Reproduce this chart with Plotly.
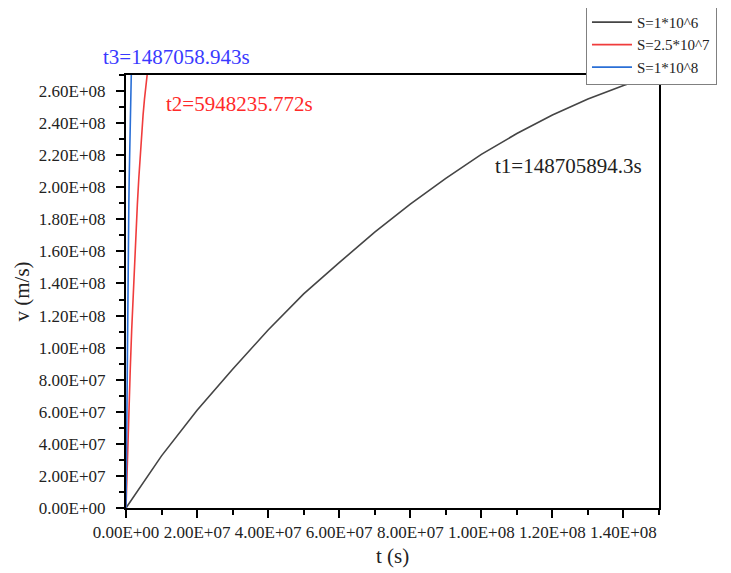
import plotly.graph_objects as go

# Black curve, S = 1*10^6
t_s1 = [0, 1e7, 2e7, 3e7, 4e7, 5e7, 6e7, 7e7, 8e7, 9e7, 1e8, 1.1e8, 1.2e8, 1.3e8, 1.4e8, 1.487e8]
v_s1 = [0, 3.25e7, 6.1e7, 8.65e7, 1.11e8, 1.335e8, 1.53e8, 1.72e8, 1.895e8, 2.055e8,
        2.205e8, 2.335e8, 2.45e8, 2.55e8, 2.635e8, 2.70e8]

# Red curve, S = 2.5*10^7
t_s2 = [0, 4e5, 8e5, 1.2e6, 1.6e6, 2.0e6, 2.4e6, 2.8e6, 3.2e6, 3.6e6, 4.0e6, 4.4e6,
        4.8e6, 5.2e6, 5.6e6, 5.948e6]
v_s2 = [0, 3.25e7, 6.1e7, 8.65e7, 1.11e8, 1.335e8, 1.53e8, 1.72e8, 1.895e8, 2.055e8,
        2.205e8, 2.335e8, 2.45e8, 2.55e8, 2.635e8, 2.70e8]

# Blue curve, S = 1*10^8
t_s3 = [0, 1e5, 2e5, 3e5, 4e5, 5e5, 6e5, 7e5, 8e5, 9e5, 1.0e6, 1.1e6, 1.2e6, 1.3e6,
        1.4e6, 1.487e6]
v_s3 = [0, 3.25e7, 6.1e7, 8.65e7, 1.11e8, 1.335e8, 1.53e8, 1.72e8, 1.895e8, 2.055e8,
        2.205e8, 2.335e8, 2.45e8, 2.55e8, 2.635e8, 2.70e8]

series_names = ["S=1*10^6", "S=2.5*10^7", "S=1*10^8"]

x_tickvals = [0, 2e7, 4e7, 6e7, 8e7, 1e8, 1.2e8, 1.4e8]
x_ticktext = ["0.00E+00", "2.00E+07", "4.00E+07", "6.00E+07", "8.00E+07",
              "1.00E+08", "1.20E+08", "1.40E+08"]
y_tickvals = [0, 2e7, 4e7, 6e7, 8e7, 1e8, 1.2e8, 1.4e8, 1.6e8, 1.8e8, 2e8, 2.2e8, 2.4e8, 2.6e8]
y_ticktext = ["0.00E+00", "2.00E+07", "4.00E+07", "6.00E+07", "8.00E+07",
              "1.00E+08", "1.20E+08", "1.40E+08", "1.60E+08", "1.80E+08",
              "2.00E+08", "2.20E+08", "2.40E+08", "2.60E+08"]

FONT = "Liberation Serif"

fig = go.Figure()
fig.add_trace(go.Scatter(x=t_s1, y=v_s1, mode="lines", name=series_names[0],
                         line=dict(color="#454545", width=1.6)))
fig.add_trace(go.Scatter(x=t_s2, y=v_s2, mode="lines", name=series_names[1],
                         line=dict(color="#f03c3c", width=1.6)))
fig.add_trace(go.Scatter(x=t_s3, y=v_s3, mode="lines", name=series_names[2],
                         line=dict(color="#2a6fd6", width=1.6)))

fig.add_annotation(xref="paper", yref="paper", x=0.094, y=1.042,
                   xanchor="center", yanchor="middle",
                   text="t3=1487058.943s", showarrow=False,
                   font=dict(family=FONT, size=21, color="#3a3aff"))
fig.add_annotation(x=3.2e7, y=2.52e8, text="t2=5948235.772s", showarrow=False,
                   xanchor="center", yanchor="middle",
                   font=dict(family=FONT, size=21, color="#ff2a2a"))
fig.add_annotation(x=1.246e8, y=2.132e8, text="t1=148705894.3s", showarrow=False,
                   xanchor="center", yanchor="middle",
                   font=dict(family=FONT, size=21, color="#222222"))

axis_common = dict(showline=True, linewidth=2, linecolor="black", mirror=True,
                   ticks="outside", ticklen=8, tickwidth=1.5, tickcolor="black",
                   showgrid=False, zeroline=False, tickangle=0,
                   tickfont=dict(family=FONT, size=17, color="#222222"),
                   minor=dict(ticks="outside", ticklen=5, tickwidth=1.5,
                              tickcolor="black", tickmode="linear", tick0=0, dtick=1e7,
                              showgrid=False))

fig.update_xaxes(range=[0, 1.5e8], tickmode="array", tickvals=x_tickvals,
                 ticktext=x_ticktext, title=dict(text="t (s)", standoff=7,
                 font=dict(family=FONT, size=21, color="#222222")), **axis_common)
fig.update_yaxes(range=[0, 2.7e8], tickmode="array", tickvals=y_tickvals,
                 ticktext=y_ticktext, ticklabelstandoff=7,
                 title=dict(text="v (m/s)", standoff=4,
                 font=dict(family=FONT, size=21, color="#222222")), **axis_common)

# page body has an 8px margin, so margins are offset to land the plot box in place
fig.update_layout(
    width=731, height=573,
    margin=dict(l=118, r=80, t=67, b=73, autoexpand=False),
    plot_bgcolor="white", paper_bgcolor="white",
    font=dict(family=FONT, size=17, color="#222222"),
    legend=dict(x=0.863, y=1.162, xanchor="left", yanchor="top",
                bgcolor="white", bordercolor="#808080", borderwidth=1,
                font=dict(family=FONT, size=15, color="#222222"),
                itemwidth=40, tracegroupgap=0),
    showlegend=True,
)

fig.write_html("out.html")
